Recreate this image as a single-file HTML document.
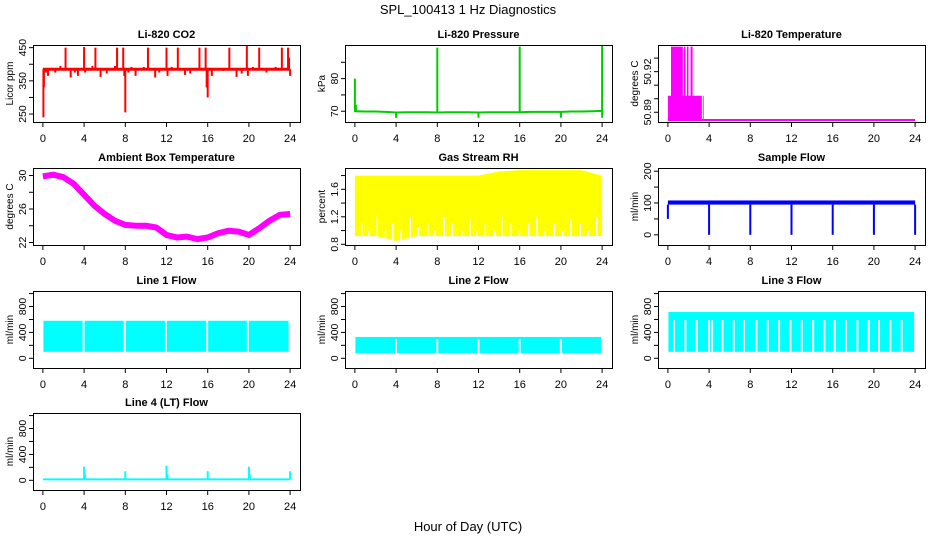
<!DOCTYPE html>
<html><head><meta charset="utf-8">
<style>
body{margin:0;background:#fff}
svg{display:block;font-family:"Liberation Sans",Arial,sans-serif}
</style></head>
<body>
<svg id="c" width="936" height="540" viewBox="0 0 936 540">
<text x="468" y="14" text-anchor="middle" font-size="13">SPL_100413  1 Hz Diagnostics</text>
<text x="468" y="531" text-anchor="middle" font-size="13">Hour of Day (UTC)</text>
</svg>
<script>
// ---- data ----
const xTicks = [0,4,8,12,16,20,24];
const co2Base = 385;
const co2SpikeHours = [0.05,0.1,0.3,0.5,1.2,1.7,2.2,2.7,3.1,3.4,4.0,4.1,4.8,5.1,5.6,6.2,7.0,7.2,7.8,7.9,8.0,8.3,8.6,9.0,9.8,10.2,10.9,11.3,12.0,12.1,12.5,13.1,13.8,14.3,15.2,15.8,15.9,16.0,16.4,17.5,18.1,18.8,19.3,19.8,19.9,20.4,21.0,21.7,22.6,23.2,23.8,23.9,24.0];
const co2SpikeVals  = [240,330,375,365,375,395,450,360,375,365,452,375,395,450,362,372,395,450,450,365,255,375,392,365,392,450,360,375,450,365,392,450,368,372,450,450,330,300,365,380,450,362,372,455,365,392,450,375,392,450,450,420,365];
const presBaseHours = [0,1,2,3,4,5,6,7,8,9,10,11,12,13,14,15,16,17,18,19,20,21,22,23,24];
const presBaseVals  = [70,69.9,69.9,69.8,69.6,69.7,69.7,69.7,69.6,69.7,69.7,69.7,69.6,69.7,69.7,69.7,69.7,69.8,69.8,69.8,69.8,69.9,69.9,70,70.1];
const presSpikeHours = [0,0.1,4,8,12,16,20,24,24];
const presSpikeVals  = [80,72,68,89.5,68,89.8,68,90.2,68];
const ltBlockStart = [0,0.3,1.55,1.85,2.2,3.4];
const ltBlockEnd   = [3.3,1.45,1.7,2.0,2.4,3.47];
const ltBlockTop   = [50.9022,50.9385,50.9385,50.9385,50.9385,50.9022];
const ltBase = 50.8843;
const ambHours = [0,1,2,3,4,5,6,7,8,9,10,11,12,13,14,15,16,17,18,19,20,21,22,23,24];
const ambVals  = [29.9,30.1,29.8,29.0,27.7,26.4,25.4,24.6,24.1,24.0,24.0,23.8,22.9,22.6,22.7,22.4,22.6,23.1,23.4,23.3,22.9,23.7,24.6,25.3,25.4];
const rhHours = [0,2,4,6,8,10,12,14,16,18,20,22,24];
const rhLow   = [0.92,0.92,0.85,0.92,0.92,0.92,0.92,0.92,0.92,0.92,0.92,0.92,0.92];
const rhHigh  = [1.8,1.8,1.8,1.8,1.8,1.8,1.8,1.86,1.88,1.88,1.88,1.88,1.8];
const rhGapHours = [0.6,1.3,2.1,2.9,3.6,4.4,5.3,6.1,7.0,7.7,8.6,9.4,10.3,11.1,11.8,12.6,13.5,14.2,15.1,15.9,16.8,17.6,18.4,19.3,20.1,20.9,21.8,22.6,23.4];
const rhGapTop  = [1.1,1.0,1.2,1.0,1.1,1.0,1.2,1.05,1.1,1.0,1.2,1.1,1.0,1.15,1.0,1.1,1.0,1.2,1.1,1.0,1.1,1.2,1.0,1.1,1.0,1.15,1.1,1.0,1.2];
const sfBaseLow = 95, sfBaseHigh = 108;
const sfDipHours = [0,4,8,12,16,20,24];
const sfDipVals  = [50,0,0,0,0,0,0];
const l1Low = 100, l1High = 580;
const l1GapHours = [3.85,7.85,11.85,15.85,19.8,23.85];
const l2Low = 80, l2High = 330;
const l2GapHours = [3.9,7.9,11.9,15.9,19.9];
const l3Low = 100, l3High = 715;
const l3GapHours = [0.5,1.6,2.7,3.9,4.2,5.2,6.3,7.3,8.5,9.6,10.7,11.8,12.9,14.0,15.1,16.1,17.2,18.3,19.4,20.4,21.5,22.6];
const l4Base = 15;
const l4SpikeHours = [4,4.1,8,12,12.1,16,20,20.1,24];
const l4SpikeVals  = [210,90,140,225,90,140,210,90,140];

// ---- layout ----
const NS='http://www.w3.org/2000/svg';
const svg=document.getElementById('c');
function mk(tag,attrs,parent){const e=document.createElementNS(NS,tag);for(const k in attrs)e.setAttribute(k,attrs[k]);(parent||svg).appendChild(e);return e;}
const colX=[33,345,658], rowY=[45,168,291,413], W=267, H=77;
function panel(col,row,title,ylabel,ydom,ticks,labels,name){
  const L=colX[col],T=rowY[row],R=L+W,B=T+H;
  const g=mk('g',{});
  
  
  const xs=h=>L+(h+0.96)/25.92*W;
  const ys=v=>B-(v-ydom[0])/(ydom[1]-ydom[0])*H;
  const t=mk('text',{x:(L+R)/2,y:T-7,'text-anchor':'middle','font-size':11,'font-weight':'bold'},g);t.textContent=title;
  
  const plot=mk('g',{},g);
  
  const ax=mk('g',{stroke:'#000','stroke-width':1,fill:'none'},g);
  
  mk('rect',{x:L+.5,y:T+.5,width:W,height:H},ax);
  xTicks.forEach(h=>{mk('line',{x1:xs(h),x2:xs(h),y1:B+.5,y2:B+5},ax);
    const tx=mk('text',{x:xs(h),y:B+20,'text-anchor':'middle','font-size':11,stroke:'none',fill:'#000'},g);tx.textContent=h;
    });
  ticks.forEach((v,i)=>{mk('line',{x1:L-4,x2:L,y1:ys(v),y2:ys(v)},ax);
    if(labels[i]){const tx=mk('text',{x:L-7,y:ys(v),transform:`rotate(-90 ${L-7} ${ys(v)})`,'text-anchor':'middle','font-size':10.5,fill:'#000'},g);tx.textContent=labels[i];
    }});
  const yl=mk('text',{x:L-20,y:(T+B)/2,transform:`rotate(-90 ${L-20} ${(T+B)/2})`,'text-anchor':'middle','font-size':10},g);yl.textContent=ylabel;
  
  return {xs,ys,plot};
}
function vline(p,x,y1,y2,color,w){mk('line',{x1:x,x2:x,y1:y1,y2:y2,stroke:color,'stroke-width':w||1},p);}
function band(p,x1,x2,y1,y2,color){mk('rect',{x:Math.min(x1,x2),y:Math.min(y1,y2),width:Math.abs(x2-x1),height:Math.abs(y2-y1)||1,fill:color},p);}

// CO2
let P=panel(0,0,'Li-820 CO2','Licor ppm',[226,458],[250,300,350,400,450],['250','','350','','450'],'co2');
co2SpikeHours.forEach((h,i)=>vline(P.plot,P.xs(h),P.ys(co2Base),P.ys(co2SpikeVals[i]),'#f00',2));
mk('line',{x1:P.xs(0),x2:P.xs(24),y1:P.ys(co2Base),y2:P.ys(co2Base),stroke:'#f00','stroke-width':3},P.plot);
// Pressure
P=panel(1,0,'Li-820 Pressure','kPa',[66.7,90.3],[70,75,80,85],['70','','80',''],'pressure');
mk('polyline',{points:presBaseHours.map((h,i)=>P.xs(h)+','+P.ys(presBaseVals[i])).join(' '),fill:'none',stroke:'#0c0','stroke-width':2},P.plot);
presSpikeHours.forEach((h,i)=>vline(P.plot,P.xs(h),P.ys(69.8),P.ys(presSpikeVals[i]),'#0c0',2));
// Li temp
P=panel(2,0,'Li-820 Temperature','degrees C',[50.8828,50.9397],[50.89,50.90,50.91,50.92,50.93],['50.89','','','50.92',''],'li820-temp');
ltBlockStart.forEach((s,i)=>band(P.plot,P.xs(s),P.xs(ltBlockEnd[i]),P.ys(ltBase),P.ys(ltBlockTop[i]),'#f0f'));
mk('line',{x1:P.xs(0),x2:P.xs(24),y1:P.ys(ltBase),y2:P.ys(ltBase),stroke:'#f0f','stroke-width':2},P.plot);
// Ambient
P=panel(0,1,'Ambient Box Temperature','degrees C',[21.7,30.9],[22,24,26,28,30],['22','','26','','30'],'ambient-temp');
mk('polyline',{points:ambHours.map((h,i)=>P.xs(h)+','+P.ys(ambVals[i])).join(' '),fill:'none',stroke:'#f0f','stroke-width':6,'stroke-linejoin':'round'},P.plot);
// RH
P=panel(1,1,'Gas Stream RH','percent',[0.79,1.91],[0.8,1.0,1.2,1.4,1.6,1.8],['0.8','','1.2','','1.6',''],'gas-rh');
mk('polygon',{points:rhHours.map((h,i)=>P.xs(h)+','+P.ys(rhHigh[i])).concat(rhHours.slice().reverse().map((h,i)=>P.xs(h)+','+P.ys(rhLow[rhHours.length-1-i]))).join(' '),fill:'#ff0'},P.plot);
rhGapHours.forEach((h,i)=>band(P.plot,P.xs(h),P.xs(h)+1.5,P.ys(0.85),P.ys(rhGapTop[i]),'#fff'));
// Sample flow
P=panel(2,1,'Sample Flow','ml/min',[-32,210],[0,50,100,150,200],['0','','100','','200'],'sample-flow');
band(P.plot,P.xs(0),P.xs(24),P.ys(sfBaseLow),P.ys(sfBaseHigh),'#00f');
sfDipHours.forEach((h,i)=>vline(P.plot,P.xs(h),P.ys(sfBaseLow),P.ys(sfDipVals[i]),'#00f',2));
// Line flows
const lt=[0,200,400,600,800,1000], ll=['0','','400','','800',''];
function flow(col,row,title,name,lo,hi,gaps,gapTop){
  const Q=panel(col,row,title,'ml/min',[-150,1040],lt,ll,name);
  band(Q.plot,Q.xs(0.05),Q.xs(23.9),Q.ys(lo),Q.ys(hi),'#0ff');
  gaps.forEach(h=>band(Q.plot,Q.xs(h),Q.xs(h)+2,Q.ys(lo)+1,Q.ys(gapTop),'#fff'));
  return Q;
}
flow(0,2,'Line 1 Flow','line1-flow',l1Low,l1High,l1GapHours,l1High+10);
flow(1,2,'Line 2 Flow','line2-flow',l2Low,l2High,l2GapHours,l2High-40);
flow(2,2,'Line 3 Flow','line3-flow',l3Low,l3High,l3GapHours,590);
P=panel(0,3,'Line 4 (LT) Flow','ml/min',[-150,1040],lt,ll,'line4-flow');
band(P.plot,P.xs(0),P.xs(24),P.ys(0),P.ys(l4Base+15),'#0ff');
l4SpikeHours.forEach((h,i)=>vline(P.plot,P.xs(h),P.ys(l4Base),P.ys(l4SpikeVals[i]),'#0ff',2));
</script>
</body></html>
